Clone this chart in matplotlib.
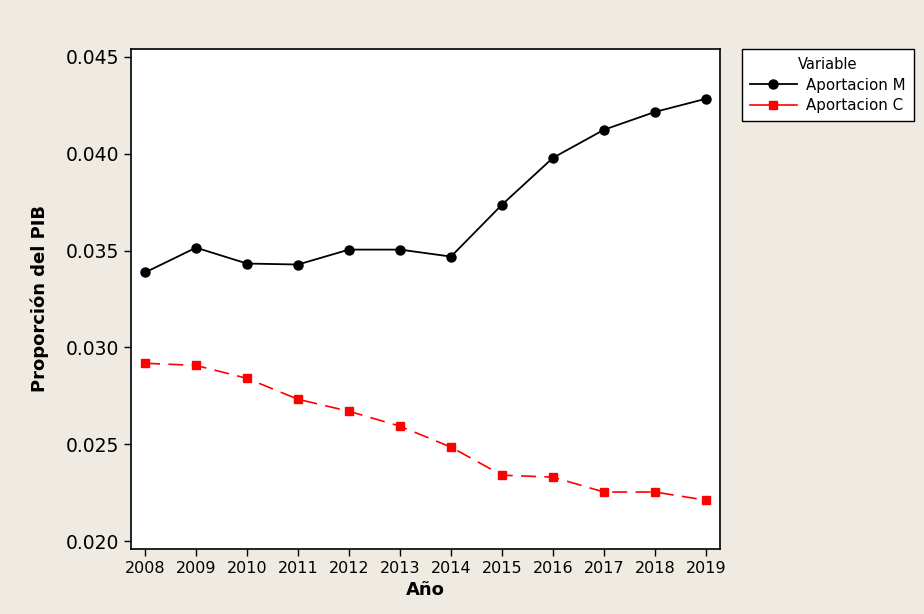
import matplotlib
matplotlib.use('Agg')
import matplotlib.pyplot as plt

# data
years = [2008, 2009, 2010, 2011, 2012, 2013, 2014, 2015, 2016, 2017, 2018, 2019]
aport_m = [0.03387, 0.03515, 0.03433, 0.03428, 0.03505, 0.03505,
           0.03469, 0.03737, 0.03979, 0.04124, 0.04216, 0.04284]
aport_c = [0.02918, 0.02907, 0.02840, 0.02732, 0.02670, 0.02593,
           0.02485, 0.02340, 0.02330, 0.02253, 0.02253, 0.02211]
yticks = [0.020, 0.025, 0.030, 0.035, 0.040, 0.045]

bg = '#EFEBE2'

fig = plt.figure(figsize=(9.24, 6.14), dpi=100, facecolor=bg)
ax = fig.add_axes([0.1418, 0.1059, 0.6374, 0.8143])
ax.set_facecolor('white')

ax.plot(years, aport_m, color='black', lw=1.3, marker='o', ms=6.5,
        label='Aportacion M')
ax.plot(years, aport_c, color='red', lw=1.2, marker='s', ms=5.5,
        dashes=(9, 5), label='Aportacion C')

ax.set_xlim(2007.725, 2019.275)
ax.set_ylim(0.01959, 0.04541)
ax.set_xticks(years)
ax.set_yticks(yticks)
ax.set_yticklabels([f'{v:.3f}' for v in yticks])
ax.tick_params(axis='y', labelsize=13.5, length=5, width=1, direction='out')
ax.tick_params(axis='x', labelsize=11.5, length=5, width=1, direction='out')
for s in ax.spines.values():
    s.set_linewidth(1.2)

ax.set_xlabel('Año', fontsize=13, fontweight='bold', labelpad=4)
ax.set_ylabel('Proporción del PIB', fontsize=13, fontweight='bold', labelpad=12)

leg = fig.legend(loc='upper left', bbox_to_anchor=(0.803, 0.920),
                 borderaxespad=0, title='Variable', fontsize=10.8,
                 title_fontsize=10.5, frameon=True, fancybox=False,
                 framealpha=1, edgecolor='black', borderpad=0.55,
                 handlelength=3.1, handletextpad=0.6, labelspacing=0.35)
leg.get_frame().set_linewidth(1.0)
leg.get_frame().set_facecolor('white')
for h in leg.get_lines():
    h.set_linestyle('-')

fig.savefig('out.png', dpi=100, facecolor=bg)
